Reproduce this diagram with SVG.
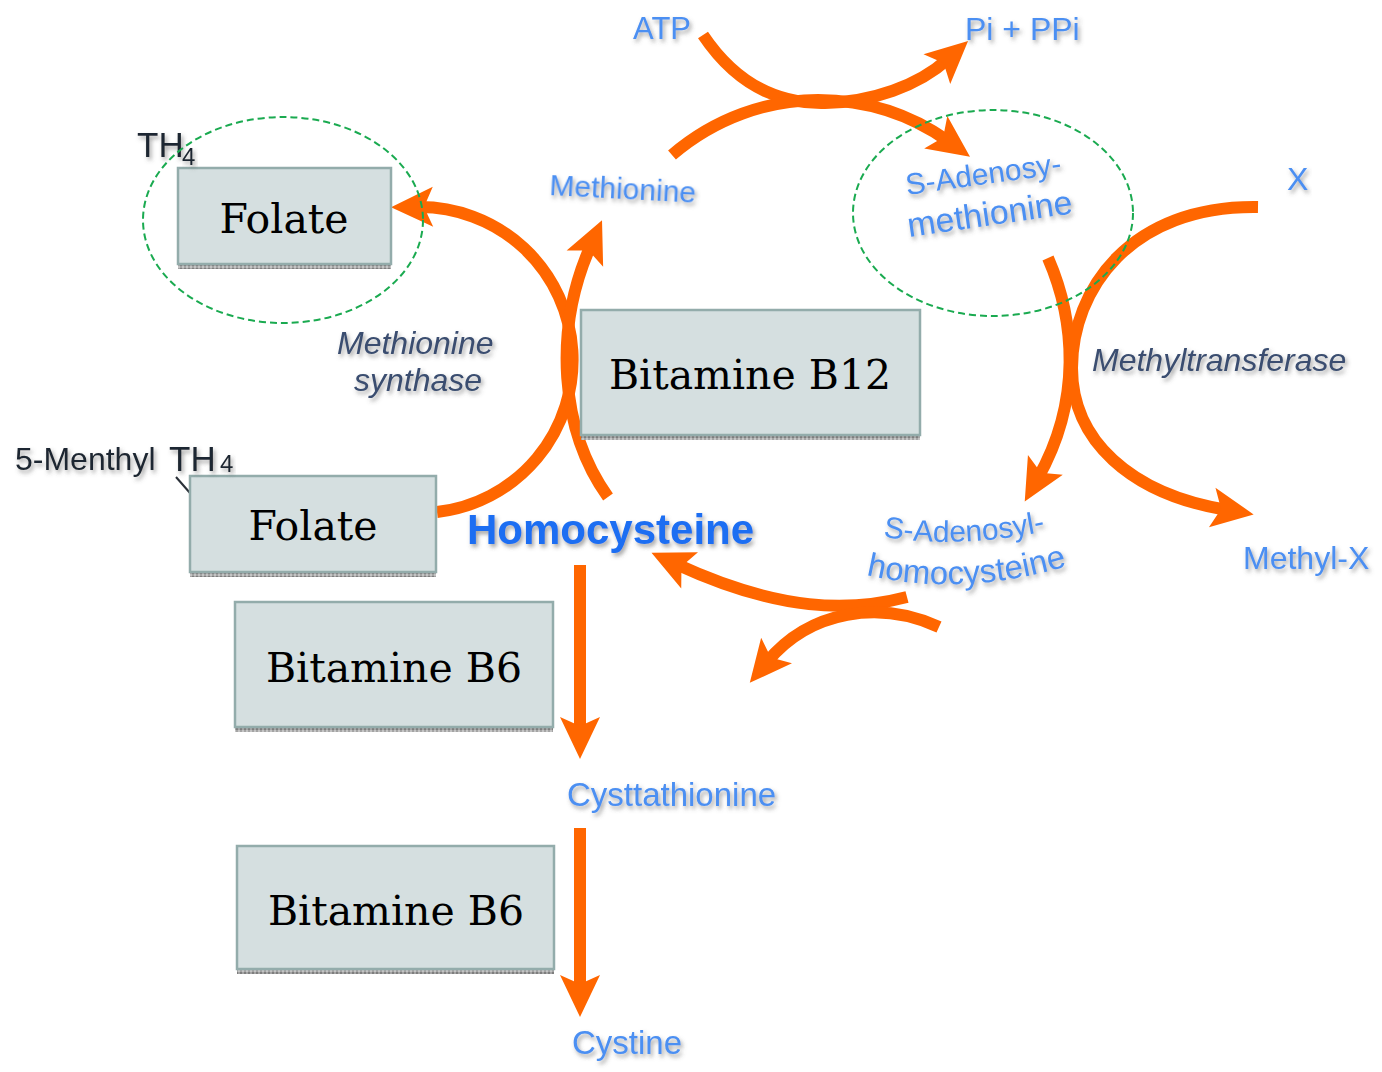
<svg xmlns="http://www.w3.org/2000/svg" width="1382" height="1072" viewBox="0 0 1382 1072">
  <style>
    .arc { fill: none; stroke: #ff6600; stroke-width: 12; }
    .head { marker-end: url(#ah); }
    .box { fill: #d5dfe0; stroke: #93acab; stroke-width: 2.5; }
    .strip { fill: url(#stripPat); }
    .boxtxt { font-family: "DejaVu Serif", "Liberation Serif", serif; font-size: 41px; fill: #000; text-anchor: middle; }
    .lbl { font-family: "Liberation Sans", Arial, sans-serif; fill: #4b8ff2; filter: url(#sh); }
    .enz { font-family: "Liberation Sans", Arial, sans-serif; font-style: italic; fill: #3a4e70; filter: url(#sh); }
    .dark { font-family: "Liberation Sans", Arial, sans-serif; fill: #1e2630; filter: url(#sh); }
    .ring { fill: none; stroke: #1aaa50; stroke-width: 2; stroke-dasharray: 7 4; }
  </style>
  <defs>
    <marker id="ah" markerUnits="userSpaceOnUse" markerWidth="46" markerHeight="46" viewBox="0 0 46 46" refX="17" refY="23" orient="auto">
      <path d="M2,3 L44,23 L2,43 L11,23 Z" fill="#ff6600"/>
    </marker>
    <pattern id="stripPat" width="4" height="4" patternUnits="userSpaceOnUse">
      <rect width="4" height="4" fill="#a4a4a4"/>
      <rect width="2" height="2" fill="#7e7e7e"/>
      <rect x="2" y="2" width="2" height="2" fill="#c4c4c4"/>
    </pattern>
    <filter id="sh" x="-10%" y="-40%" width="125%" height="190%">
      <feGaussianBlur in="SourceAlpha" stdDeviation="2.2"/>
      <feOffset dx="2" dy="3" result="b"/>
      <feFlood flood-color="#555555" flood-opacity="0.55"/>
      <feComposite in2="b" operator="in"/>
      <feMerge><feMergeNode/><feMergeNode in="SourceGraphic"/></feMerge>
    </filter>
    <path id="samTop" d="M907,195 L1065,173"/>
    <path id="samBot" d="M909,237 L1082,212"/>
    <path id="sahTop" d="M883,537 Q962,549 1046,531"/>
    <path id="sahBot" d="M866,575 Q965,598 1074,564"/>
  </defs>

  <rect width="1382" height="1072" fill="#ffffff"/>

  <!-- pathway arrows -->
  <g id="connectors">
    <path class="arc head" d="M703,35 C740,90 785,104 825,103 C872,102 918,86 948,59"/>
    <path class="arc head" d="M672,155 C715,118 768,100 818,100 C866,100 910,114 948,141"/>
    <path class="arc head" d="M1048,258 C1075,320 1082,400 1038,478"/>
    <path class="arc head" d="M1258,207 C1130,205 1072,290 1072,368 C1072,440 1130,494 1227,510"/>
    <path class="arc head" d="M907,597 C850,612 780,612 676,564"/>
    <path class="arc head" d="M939,627 C880,600 810,610 767,662"/>
    <path class="arc head" d="M437,512 A153,153 0 0 0 418,207"/>
    <path class="arc head" d="M608,497 C560,430 553,330 591,245"/>
    <path class="arc head" d="M580,565 L580,732"/>
    <path class="arc head" d="M580,828 L580,990"/>
    <line x1="176" y1="477" x2="190" y2="493" stroke="#2a3038" stroke-width="2"/>
  </g>

  <!-- vitamin / cofactor boxes -->
  <g id="folate-top">
    <rect class="strip" x="178" y="264" width="213" height="5"/>
    <rect class="box" x="178" y="168" width="213" height="96"/>
    <text class="boxtxt" x="284" y="233">Folate</text>
  </g>
  <g id="folate-bottom">
    <rect class="strip" x="190" y="572" width="246" height="5"/>
    <rect class="box" x="190" y="476" width="246" height="96"/>
    <text class="boxtxt" x="313" y="540">Folate</text>
  </g>
  <g id="b12">
    <rect class="strip" x="581" y="435" width="339" height="5"/>
    <rect class="box" x="581" y="310" width="339" height="125"/>
    <text class="boxtxt" x="750" y="389">Bitamine B12</text>
  </g>
  <g id="b6-upper">
    <rect class="strip" x="235" y="727" width="318" height="5"/>
    <rect class="box" x="235" y="602" width="318" height="125"/>
    <text class="boxtxt" x="394" y="682">Bitamine B6</text>
  </g>
  <g id="b6-lower">
    <rect class="strip" x="237" y="969" width="317" height="5"/>
    <rect class="box" x="237" y="846" width="317" height="123"/>
    <text class="boxtxt" x="396" y="925">Bitamine B6</text>
  </g>

  <!-- metabolites and enzymes -->
  <g id="th4"><text class="dark" x="137" y="157" font-size="35">TH</text><text class="dark" x="182" y="165" font-size="24">4</text></g>
  <g id="methyl-th4"><text class="dark" x="15" y="470" font-size="32">5-Menthyl</text><text class="dark" x="169" y="471" font-size="35">TH</text><text class="dark" x="220" y="472" font-size="24">4</text></g>
  <g id="atp"><text class="lbl" x="633" y="39" font-size="31">ATP</text></g>
  <g id="pi-ppi"><text class="lbl" x="965" y="40" font-size="32">Pi + PPi</text></g>
  <g id="methionine"><text class="lbl" x="549" y="195" font-size="30" transform="rotate(3 549 195)">Methionine</text></g>
  <g id="sam">
    <text class="lbl" font-size="30"><textPath href="#samTop">S-Adenosy-</textPath></text>
    <text class="lbl" font-size="34"><textPath href="#samBot">methionine</textPath></text>
  </g>
  <g id="x"><text class="lbl" x="1287" y="190" font-size="32">X</text></g>
  <g id="methyltransferase"><text class="enz" x="1092" y="371" font-size="32">Methyltransferase</text></g>
  <g id="methionine-synthase">
    <text class="enz" x="337" y="354" font-size="32">Methionine</text>
    <text class="enz" x="354" y="391" font-size="32">synthase</text>
  </g>
  <g id="homocysteine"><text x="467" y="544" font-family="Liberation Sans, Arial, sans-serif" font-weight="bold" font-size="42" fill="#1a6ef2" filter="url(#sh)">Homocysteine</text></g>
  <g id="sah">
    <text class="lbl" font-size="30"><textPath href="#sahTop">S-Adenosyl-</textPath></text>
    <text class="lbl" font-size="33"><textPath href="#sahBot">homocysteine</textPath></text>
  </g>
  <g id="methyl-x"><text class="lbl" x="1243" y="569" font-size="32">Methyl-X</text></g>
  <g id="cystathionine"><text class="lbl" x="567" y="806" font-size="33">Cysttathionine</text></g>
  <g id="cystine"><text class="lbl" x="572" y="1054" font-size="33">Cystine</text></g>

  <!-- dashed highlight rings -->
  <g id="rings">
    <ellipse class="ring" cx="283" cy="220" rx="140" ry="103"/>
    <ellipse class="ring" cx="993" cy="213" rx="140" ry="103"/>
  </g>
</svg>
